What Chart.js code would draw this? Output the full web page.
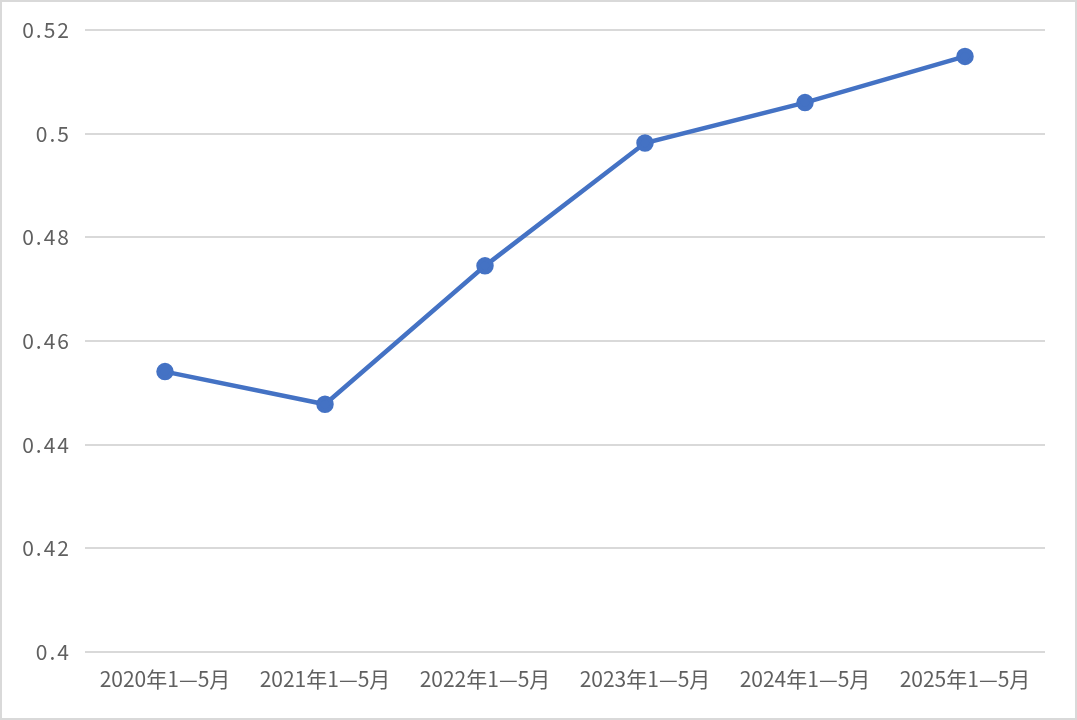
<!DOCTYPE html>
<html>
<head>
<meta charset="utf-8">
<script src="https://cdn.jsdelivr.net/npm/chart.js@4/dist/chart.umd.min.js"></script>
<style>
  html, body { margin: 0; padding: 0; background: #fff; }
  #wrap { width: 1077px; height: 720px; box-sizing: border-box; border: 2px solid #d9d9d9; background: #fff; }
  canvas { display: block; }
</style>
</head>
<body>
<div id="wrap"><canvas id="c" width="1073" height="716"></canvas></div>
<script>
const categories = ["2020年1\u20145月", "2021年1\u20145月", "2022年1\u20145月", "2023年1\u20145月", "2024年1\u20145月", "2025年1\u20145月"];
const values = [0.4541, 0.4478, 0.4745, 0.4982, 0.5060, 0.5149];
const yMin = 0.4, yMax = 0.52, yStep = 0.02;

const spacingPlugin = {
  id: 'ySpacing',
  afterUpdate(chart) {
    const s = chart.scales.y;
    if (s && !s._patched) {
      const orig = s.drawLabels;
      s.drawLabels = function (ca) {
        this.ctx.save();
        this.ctx.letterSpacing = '2px';
        orig.call(this, ca);
        this.ctx.restore();
      };
      s._patched = true;
    }
  }
};

new Chart(document.getElementById('c'), {
  type: 'line',
  data: {
    labels: categories,
    datasets: [{
      data: values,
      borderColor: '#4472C4',
      backgroundColor: '#4472C4',
      borderWidth: 4.5,
      pointRadius: 6.5,
      pointHoverRadius: 6.5,
      pointBackgroundColor: '#4472C4',
      pointBorderColor: '#4472C4',
      tension: 0,
      fill: false
    }]
  },
  options: {
    responsive: false,
    animation: false,
    devicePixelRatio: 1,
    layout: { padding: { top: 28, right: 30, left: 0, bottom: 0 } },
    plugins: { legend: { display: false }, tooltip: { enabled: false } },
    scales: {
      x: {
        offset: true,
        grid: { display: false, drawTicks: false },
        border: { display: false },
        ticks: {
          color: '#606060',
          padding: 14,
          maxRotation: 0,
          font: { family: '"Noto Sans CJK SC", "Noto Sans", sans-serif', size: 21 }
        },
        afterFit(scale) { scale.height = 66; }
      },
      y: {
        min: yMin,
        max: yMax,
        grid: { color: '#d9d9d9', lineWidth: 2, drawTicks: false },
        border: { display: false },
        ticks: {
          stepSize: yStep,
          color: '#606060',
          padding: 14,
          font: { family: '"Noto Sans CJK SC", "Noto Sans", sans-serif', size: 21 },
          callback: (v) => String(parseFloat(Number(v).toFixed(2)))
        },
        afterFit(scale) { scale.width = 83; }
      }
    }
  },
  plugins: [spacingPlugin]
});
</script>
</body>
</html>
